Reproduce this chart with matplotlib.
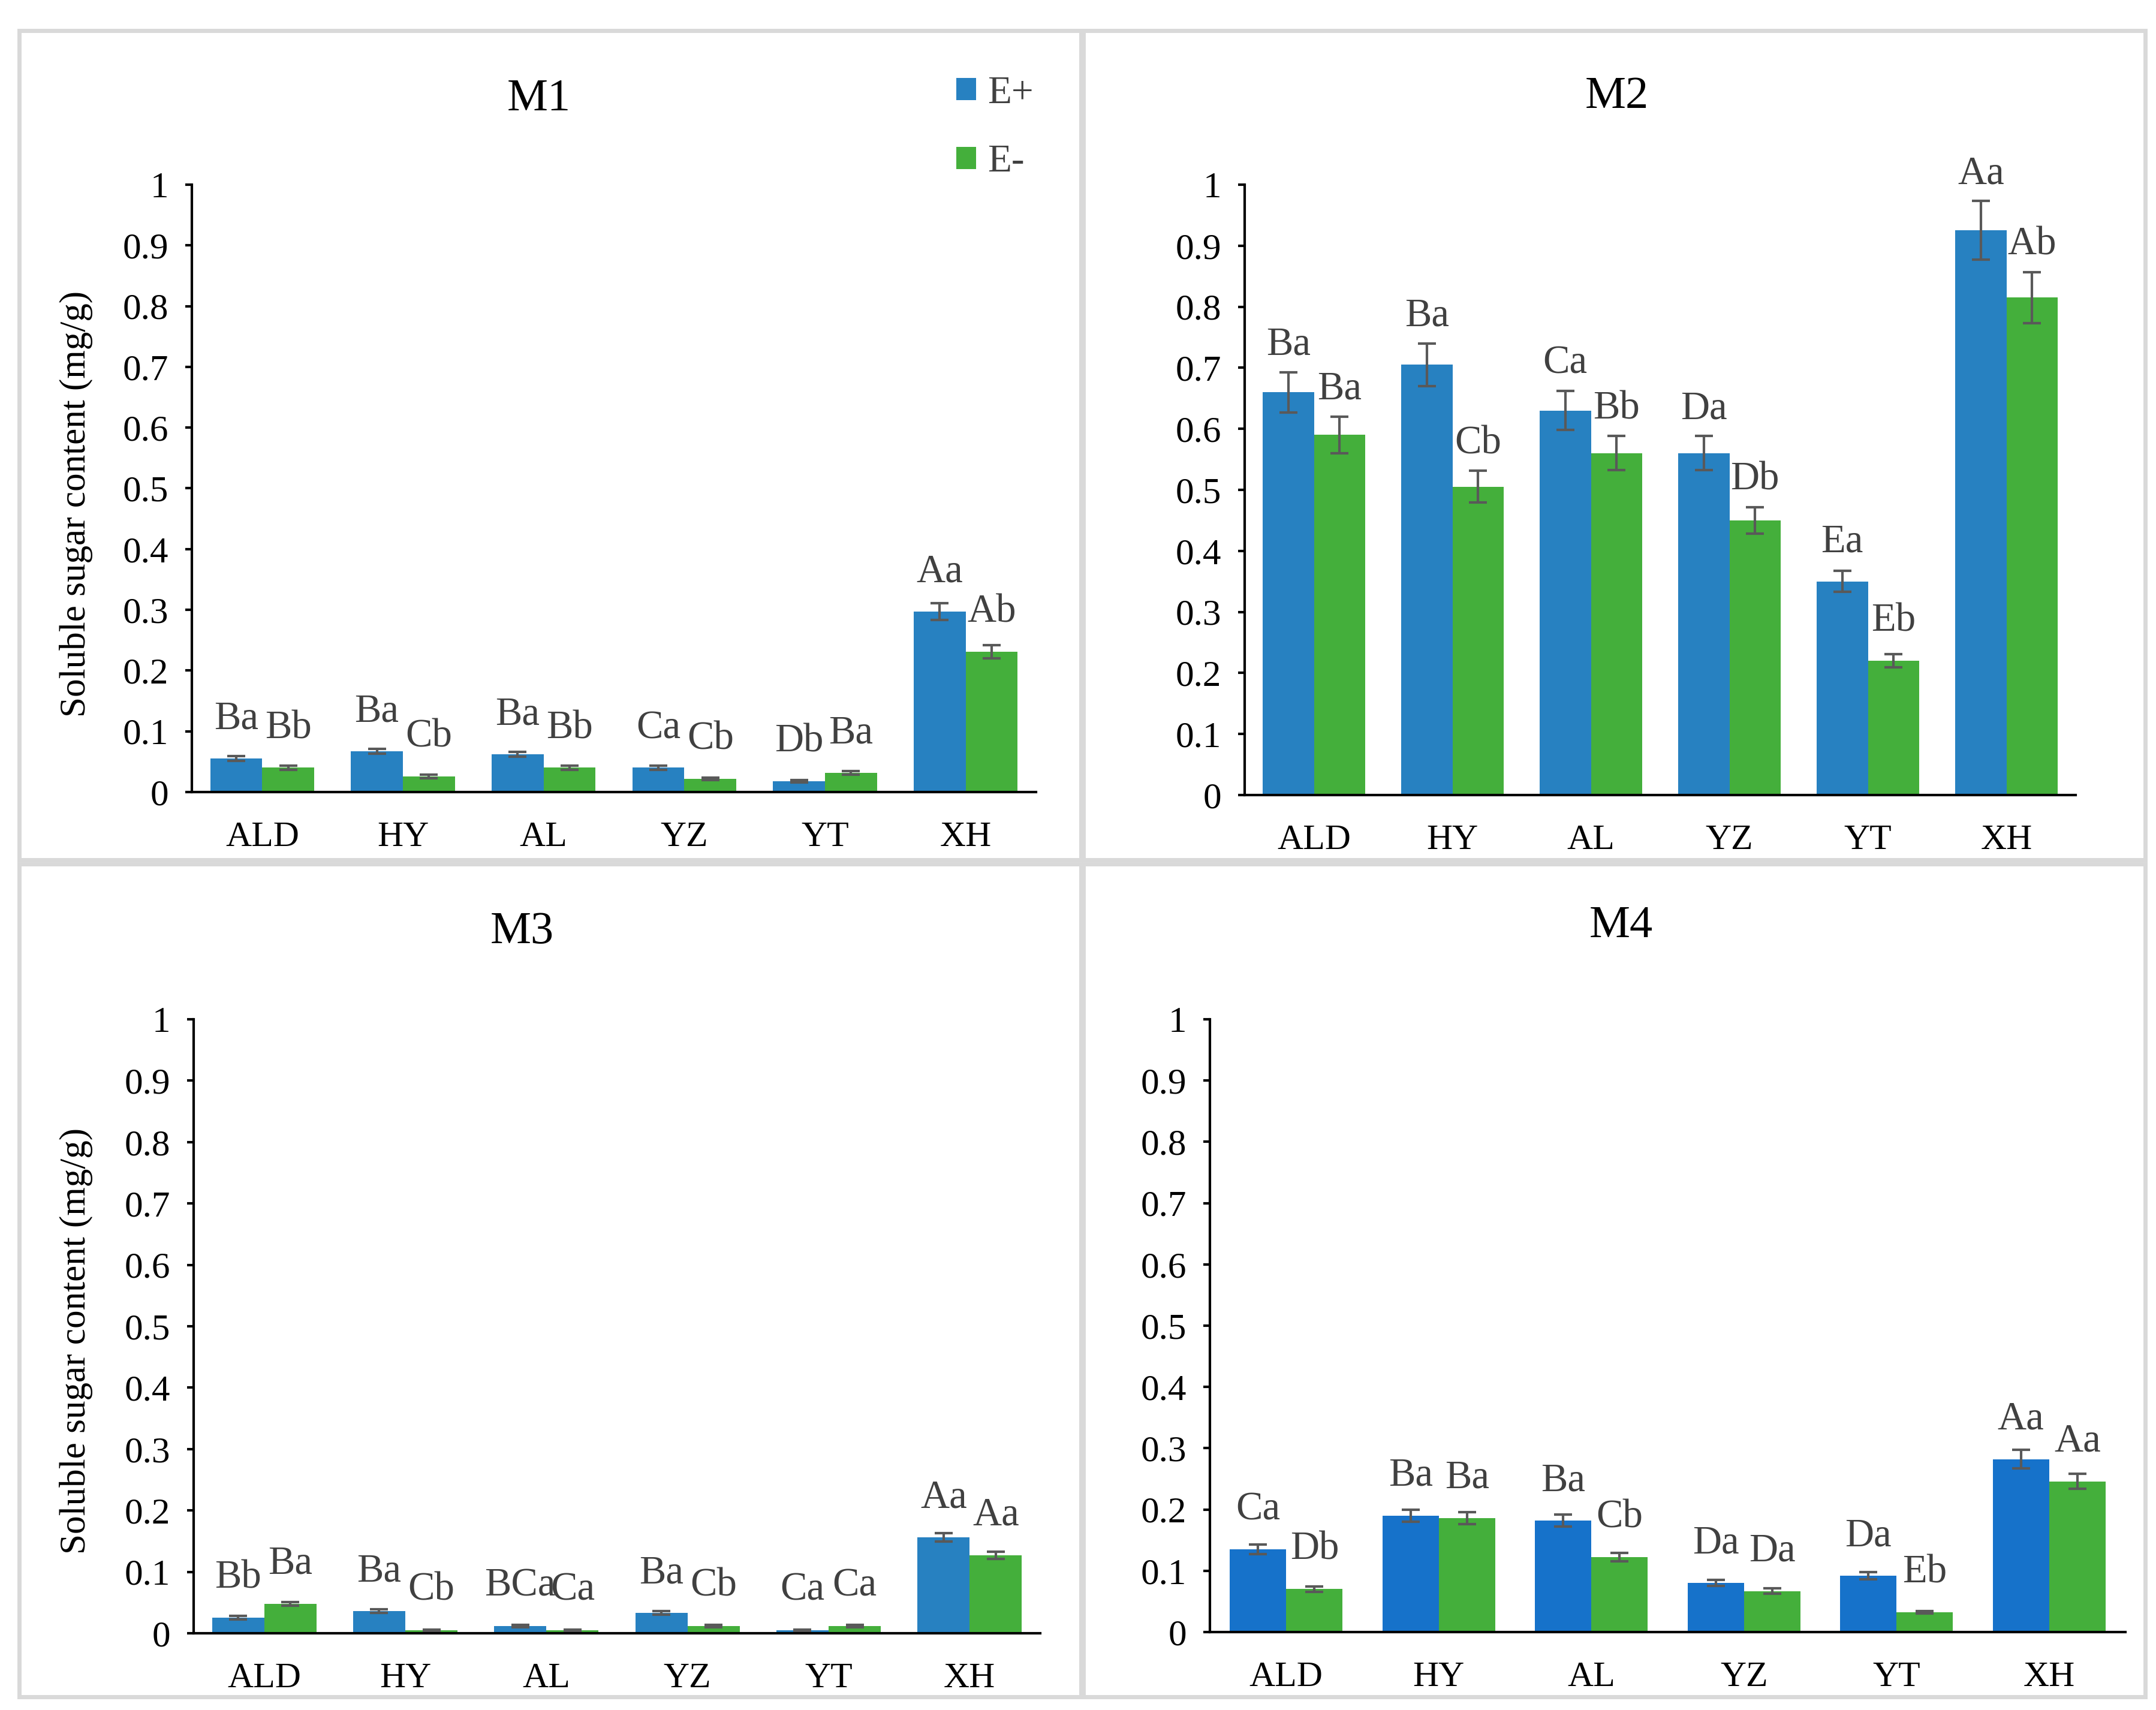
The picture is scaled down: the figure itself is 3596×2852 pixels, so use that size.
import matplotlib
matplotlib.use("Agg")
import matplotlib.pyplot as plt
from matplotlib.patches import Patch, Rectangle
import numpy as np

plt.rcParams['font.family'] = ['Liberation Serif', 'DejaVu Serif']

# Data
sites = ['ALD', 'HY', 'AL', 'YZ', 'YT', 'XH']
panels = ['M1', 'M2', 'M3', 'M4']

m1_pos = [0.055, 0.067, 0.062, 0.040, 0.018, 0.297]
m1_neg = [0.040, 0.026, 0.040, 0.022, 0.032, 0.231]
m1_pos_err = [0.004, 0.004, 0.004, 0.003, 0.002, 0.014]
m1_neg_err = [0.003, 0.003, 0.003, 0.002, 0.003, 0.011]
m1_pos_lab = ['Ba', 'Ba', 'Ba', 'Ca', 'Db', 'Aa']
m1_neg_lab = ['Bb', 'Cb', 'Bb', 'Cb', 'Ba', 'Ab']

m2_pos = [0.660, 0.705, 0.630, 0.560, 0.350, 0.925]
m2_neg = [0.590, 0.505, 0.560, 0.450, 0.220, 0.815]
m2_pos_err = [0.033, 0.035, 0.032, 0.028, 0.017, 0.048]
m2_neg_err = [0.030, 0.026, 0.028, 0.022, 0.011, 0.042]
m2_pos_lab = ['Ba', 'Ba', 'Ca', 'Da', 'Ea', 'Aa']
m2_neg_lab = ['Ba', 'Cb', 'Bb', 'Db', 'Eb', 'Ab']

m3_pos = [0.025, 0.036, 0.012, 0.033, 0.005, 0.156]
m3_neg = [0.048, 0.005, 0.005, 0.012, 0.012, 0.127]
m3_pos_err = [0.003, 0.003, 0.002, 0.003, 0.001, 0.007]
m3_neg_err = [0.003, 0.001, 0.001, 0.002, 0.002, 0.006]
m3_pos_lab = ['Bb', 'Ba', 'BCa', 'Ba', 'Ca', 'Aa']
m3_neg_lab = ['Ba', 'Cb', 'Ca', 'Cb', 'Ca', 'Aa']

m4_pos = [0.135, 0.190, 0.182, 0.080, 0.092, 0.282]
m4_neg = [0.070, 0.186, 0.122, 0.067, 0.032, 0.246]
m4_pos_err = [0.008, 0.010, 0.010, 0.005, 0.006, 0.015]
m4_neg_err = [0.004, 0.010, 0.007, 0.004, 0.002, 0.012]
m4_pos_lab = ['Ca', 'Ba', 'Ba', 'Da', 'Da', 'Aa']
m4_neg_lab = ['Db', 'Ba', 'Cb', 'Da', 'Eb', 'Aa']

# Styling
W, H = 3596, 2852
blue = '#2781C1'
blue4 = '#1672CA'
green = '#44AF3B'
err_col = '#595959'
lab_col = '#404040'
border_col = '#D9D9D9'

fig = plt.figure(figsize=(W / 100, H / 100), dpi=100)

# panel frames (pixel boxes: x0, y0, x1, y1)
frames = [(32, 51, 1803, 1434), (1807, 51, 3578, 1434),
          (32, 1441, 1803, 2830), (1807, 1441, 3578, 2830)]
for x0, y0, x1, y1 in frames:
    fig.patches.append(Rectangle((x0 / W, 1 - y1 / H), (x1 - x0) / W, (y1 - y0) / H,
                                 transform=fig.transFigure, fill=False,
                                 edgecolor=border_col, linewidth=5))

# axes boxes in pixels: left, top, right, bottom
boxes = [(320, 308, 1728, 1321), (2076, 308, 3462, 1326),
         (323, 1700, 1735, 2724), (2018, 1700, 3545, 2722)]
title_pos = [(899, 166), (2697, 161), (871, 1554), (2704, 1544)]

data = [
    (m1_pos, m1_neg, m1_pos_err, m1_neg_err, m1_pos_lab, m1_neg_lab, blue),
    (m2_pos, m2_neg, m2_pos_err, m2_neg_err, m2_pos_lab, m2_neg_lab, blue),
    (m3_pos, m3_neg, m3_pos_err, m3_neg_err, m3_pos_lab, m3_neg_lab, blue),
    (m4_pos, m4_neg, m4_pos_err, m4_neg_err, m4_pos_lab, m4_neg_lab, blue4),
]

x = np.arange(len(sites))
w = 0.37

for i, (box, (pos, neg, pe, ne, pl, nl, bc)) in enumerate(zip(boxes, data)):
    l, t, r, b = box
    ax = fig.add_axes([l / W, 1 - b / H, (r - l) / W, (b - t) / H])
    ax.bar(x - w / 2, pos, w, color=bc, yerr=pe, capsize=11,
           error_kw=dict(ecolor=err_col, elinewidth=3, capthick=3))
    ax.bar(x + w / 2, neg, w, color=green, yerr=ne, capsize=11,
           error_kw=dict(ecolor=err_col, elinewidth=3, capthick=3))

    for xi, v, e, s in zip(x - w / 2, pos, pe, pl):
        ax.text(xi, v + max(0.065, e + 0.045), s, ha='center', va='center',
                fontsize=48, color=lab_col)
    for xi, v, e, s in zip(x + w / 2, neg, ne, nl):
        ax.text(xi, v + max(0.065, e + 0.045), s, ha='center', va='center',
                fontsize=48, color=lab_col)

    ax.set_xlim(-0.5, len(sites) - 0.5)
    ax.set_ylim(0, 1)
    ax.set_yticks(np.arange(0, 1.01, 0.1))
    ax.set_yticklabels(['0'] + ['%.1f' % v for v in np.arange(0.1, 0.95, 0.1)] + ['1'])
    ax.set_xticks(x)
    ax.set_xticklabels(sites)
    ax.tick_params(axis='y', length=8, width=3, pad=20, labelsize=44)
    ax.tick_params(axis='x', length=0, pad=35, labelsize=43)
    for side in ['top', 'right']:
        ax.spines[side].set_visible(False)
    for side in ['left', 'bottom']:
        ax.spines[side].set_linewidth(3)

    tx, ty = title_pos[i]
    fig.text(tx / W, 1 - ty / H, panels[i], ha='center', va='center', fontsize=55)

# y labels (left panels only)
fig.text(127 / W, 1 - 841 / H, 'Soluble sugar content (mg/g)', rotation=90,
         ha='center', va='center', fontsize=44)
fig.text(127 / W, 1 - 2236 / H, 'Soluble sugar content (mg/g)', rotation=90,
         ha='center', va='center', fontsize=44)

# legend
handles = [Patch(facecolor=blue, label='E+'), Patch(facecolor=green, label='E-')]
fig.legend(handles=handles, loc='upper left', bbox_to_anchor=(1595 / W, 1 - 126 / H),
           frameon=False, fontsize=47, handlelength=0.5, handleheight=0.5,
           handletextpad=0.3, labelspacing=0.85, borderpad=0, borderaxespad=0,
           labelcolor=lab_col)

fig.savefig('out.png', dpi=100)
